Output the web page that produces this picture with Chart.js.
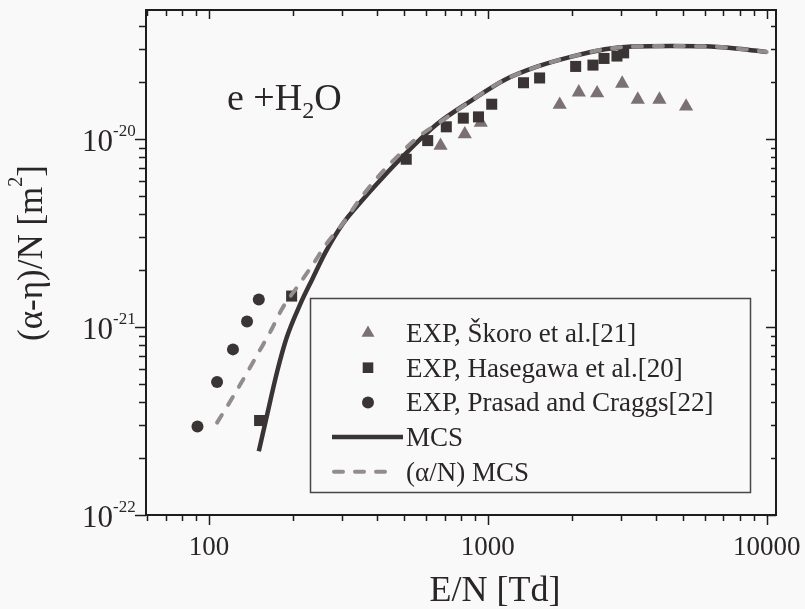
<!DOCTYPE html>
<html>
<head>
<meta charset="utf-8">
<title>e + H2O effective ionization coefficient</title>
<script src="https://cdn.jsdelivr.net/npm/chart.js@4.4.1/dist/chart.umd.min.js"></script>
<style>
  html, body { margin: 0; padding: 0; background: #f9f9f9; }
  #wrap { width: 805px; height: 609px; position: relative; }
</style>
</head>
<body>
<div id="wrap"><canvas id="ionChart"></canvas></div>
<script>
// E/N in Td, (alpha - eta)/N in m^2

// Skoro et al. [21]
const skoroE   = [677, 827, 944, 1811, 2120, 2466, 3033, 3450, 4125, 5140];
const skoroVal = [9.2e-21, 1.06e-20, 1.22e-20, 1.52e-20, 1.77e-20, 1.75e-20, 1.97e-20, 1.62e-20, 1.62e-20, 1.49e-20];

// Hasegawa et al. [20]
const hasegawaE   = [152, 198, 510, 609, 710, 817, 926, 1033, 1343, 1534, 2066, 2383, 2611, 2905, 3070];
const hasegawaVal = [3.18e-22, 1.46e-21, 7.8e-21, 9.8e-21, 1.16e-20, 1.29e-20, 1.31e-20, 1.53e-20,
                     1.99e-20, 2.11e-20, 2.43e-20, 2.47e-20, 2.68e-20, 2.76e-20, 2.87e-20];

// Prasad and Craggs [22]
const prasadE   = [91, 107, 122, 137, 151];
const prasadVal = [2.96e-22, 5.1e-22, 7.6e-22, 1.07e-21, 1.40e-21];

// Monte Carlo, (alpha - eta)/N
const mcsE   = [151, 160, 176, 190, 213, 235, 262, 303, 349, 413, 500, 658, 873, 1148, 1510,
                2000, 2630, 3290, 4570, 6000, 7890, 10000];
const mcsVal = [2.18e-22, 3.18e-22, 5.85e-22, 8.76e-22, 1.33e-21, 1.80e-21, 2.50e-21, 3.56e-21,
                4.59e-21, 6.07e-21, 8.17e-21, 1.20e-20, 1.60e-20, 2.06e-20, 2.43e-20,
                2.74e-20, 3.00e-20, 3.10e-20, 3.12e-20, 3.11e-20, 3.02e-20, 2.90e-20];

// Monte Carlo, alpha/N only
const alphaE   = [107, 122, 136.5, 151, 167, 183, 209, 236, 263, 303, 343, 395, 460, 575, 658, 873,
                  1148, 1510, 2000, 2630, 3290, 4570, 6000, 7890, 10000];
const alphaVal = [3.10e-22, 4.25e-22, 5.65e-22, 7.35e-22, 9.57e-22, 1.25e-21, 1.66e-21, 2.15e-21,
                  2.75e-21, 3.57e-21, 4.65e-21, 6.05e-21, 7.72e-21, 1.05e-20, 1.20e-20, 1.60e-20,
                  2.06e-20, 2.43e-20, 2.74e-20, 3.00e-20, 3.10e-20, 3.12e-20, 3.11e-20, 3.02e-20, 2.90e-20];

const xTickValues = [100, 1000, 10000];
const yTickExponents = [-22, -21, -20];

const serif = '"Liberation Serif", "Times New Roman", serif';
const ink = '#2a2627';
const darkMark = '#3a3435';
const greyTri = '#7b7173';
const dashGrey = '#938c8f';

const pts = (xs, ys) => xs.map((x, i) => ({ x: x, y: ys[i] }));

function logTicks(min, max) {
  const out = [];
  for (let e = Math.floor(Math.log10(min)); e <= Math.ceil(Math.log10(max)); e++) {
    for (let m = 1; m < 10; m++) {
      const v = m * Math.pow(10, e);
      if (v >= min * 0.999 && v <= max * 1.001) out.push({ v: v, major: m === 1 });
    }
  }
  return out;
}

function marker(ctx, style, x, y, r) {
  ctx.beginPath();
  if (style === 'triangle') {
    ctx.moveTo(x, y - r);
    ctx.lineTo(x + 0.866 * r, y + 0.5 * r);
    ctx.lineTo(x - 0.866 * r, y + 0.5 * r);
    ctx.closePath();
  } else if (style === 'rect') {
    const h = r * Math.SQRT1_2;
    ctx.rect(x - h, y - h, 2 * h, 2 * h);
  } else {
    ctx.arc(x, y, r, 0, Math.PI * 2);
  }
  ctx.fill();
}

// frame, ticks, tick labels, titles, annotation and legend
const decorations = {
  id: 'decorations',
  afterDraw(chart) {
    const ctx = chart.ctx;
    const area = chart.chartArea;
    const xs = chart.scales.x;
    const ys = chart.scales.y;
    ctx.save();

    // frame
    ctx.strokeStyle = '#1f1c1d';
    ctx.lineWidth = 2;
    ctx.strokeRect(area.left, area.top, area.right - area.left, area.bottom - area.top);

    // x ticks: out at the bottom, in at the top
    ctx.lineWidth = 1.5;
    ctx.beginPath();
    logTicks(xs.min, xs.max).forEach(t => {
      const px = Math.round(xs.getPixelForValue(t.v)) + 0.5;
      const len = t.major ? 10 : 6;
      ctx.moveTo(px, area.bottom);
      ctx.lineTo(px, area.bottom + len);
      ctx.moveTo(px, area.top);
      ctx.lineTo(px, area.top + (t.major ? 9 : 6));
    });
    // y ticks: out on the left, in on the right
    logTicks(ys.min, ys.max).forEach(t => {
      const py = Math.round(ys.getPixelForValue(t.v)) + 0.5;
      const len = t.major ? 11 : 7;
      ctx.moveTo(area.left, py);
      ctx.lineTo(area.left - len, py);
      ctx.moveTo(area.right, py);
      ctx.lineTo(area.right - (t.major ? 10 : 5), py);
    });
    ctx.stroke();

    ctx.fillStyle = ink;

    // x tick labels
    ctx.font = '27px ' + serif;
    ctx.textAlign = 'center';
    ctx.textBaseline = 'alphabetic';
    xTickValues.forEach(v => {
      ctx.fillText(String(v), xs.getPixelForValue(v), 555);
    });

    // y tick labels, 10 with a raised exponent
    yTickExponents.forEach(e => {
      const py = ys.getPixelForValue(Math.pow(10, e));
      ctx.font = '31px ' + serif;
      ctx.textAlign = 'right';
      ctx.fillText('10', 113, py + 12);
      ctx.font = '17px ' + serif;
      ctx.textAlign = 'left';
      ctx.fillText(String(e), 113, py - 3);
    });

    // x title
    ctx.font = '36px ' + serif;
    ctx.textAlign = 'center';
    ctx.fillText('E/N [Td]', 495, 601);

    // y title, rotated
    ctx.save();
    ctx.translate(42, 253);
    ctx.rotate(-Math.PI / 2);
    ctx.textAlign = 'left';
    const partA = '(\u03b1-\u03b7)/N [m';
    const partB = ']';
    ctx.font = '35px ' + serif;
    const wA = ctx.measureText(partA).width;
    const wB = ctx.measureText(partB).width;
    ctx.font = '20px ' + serif;
    const wS = ctx.measureText('2').width;
    let cx = -(wA + wS + wB) / 2;
    ctx.font = '35px ' + serif;
    ctx.fillText(partA, cx, 0);
    cx += wA;
    ctx.font = '20px ' + serif;
    ctx.fillText('2', cx, -20);
    cx += wS;
    ctx.font = '35px ' + serif;
    ctx.fillText(partB, cx, 0);
    ctx.restore();

    // e + H2O
    ctx.textAlign = 'left';
    ctx.font = '38px ' + serif;
    let ax = 227;
    ctx.fillText('e +H', ax, 110);
    ax += ctx.measureText('e +H').width;
    ctx.font = '24px ' + serif;
    ctx.fillText('2', ax, 118);
    ax += ctx.measureText('2').width;
    ctx.font = '38px ' + serif;
    ctx.fillText('O', ax, 110);

    // legend
    const box = { left: 310, top: 298, right: 750, bottom: 492 };
    ctx.fillStyle = '#f9f9f9';
    ctx.fillRect(box.left, box.top, box.right - box.left, box.bottom - box.top);
    ctx.strokeStyle = '#4a4546';
    ctx.lineWidth = 1.5;
    ctx.strokeRect(box.left + 0.5, box.top + 0.5, box.right - box.left, box.bottom - box.top);

    const rowY0 = 333, rowStep = 34.7, symX = 368, textX = 406;
    ctx.font = '27px ' + serif;
    chart.data.datasets.slice().sort((a, b) => a.legendRow - b.legendRow).forEach((ds, i) => {
      const ry = rowY0 + i * rowStep;
      if (ds.showLine) {
        ctx.save();
        ctx.strokeStyle = ds.borderColor;
        ctx.lineWidth = ds.borderWidth;
        ctx.lineCap = ds.borderCapStyle || 'butt';
        ctx.setLineDash(ds.borderDash || []);
        ctx.beginPath();
        if (ds.borderDash) {
          ctx.moveTo(334, ry);
          ctx.lineTo(390, ry);
        } else {
          ctx.moveTo(332, ry);
          ctx.lineTo(403, ry);
        }
        ctx.stroke();
        ctx.restore();
      } else {
        ctx.fillStyle = ds.backgroundColor;
        marker(ctx, ds.pointStyle, symX, ry, ds.pointStyle === 'triangle' ? 7.5 : (ds.pointStyle === 'rect' ? 7.5 : 6));
      }
      ctx.fillStyle = ink;
      ctx.fillText(ds.label, textX, ry + 9);
    });

    ctx.restore();
  }
};

const ctx = document.getElementById('ionChart').getContext('2d');

new Chart(ctx, {
  type: 'scatter',
  data: {
    datasets: [
      {
        label: '(\u03b1/N) MCS',
        data: pts(alphaE, alphaVal),
        showLine: true,
        borderColor: dashGrey,
        borderWidth: 4,
        borderDash: [9, 12],
        borderCapStyle: 'round',
        cubicInterpolationMode: 'monotone',
        pointRadius: 0,
        fill: false,
        order: 1,
        legendRow: 4
      },
      {
        label: 'MCS',
        data: pts(mcsE, mcsVal),
        showLine: true,
        borderColor: darkMark,
        borderWidth: 4.5,
        cubicInterpolationMode: 'monotone',
        pointRadius: 0,
        fill: false,
        order: 2,
        legendRow: 3
      },
      {
        label: 'EXP, Prasad and Craggs[22]',
        data: pts(prasadE, prasadVal),
        showLine: false,
        pointStyle: 'circle',
        pointRadius: 6,
        backgroundColor: darkMark,
        borderColor: darkMark,
        borderWidth: 0,
        order: 3,
        legendRow: 2
      },
      {
        label: 'EXP, Hasegawa et al.[20]',
        data: pts(hasegawaE, hasegawaVal),
        showLine: false,
        pointStyle: 'rect',
        pointRadius: 7.8,
        backgroundColor: darkMark,
        borderColor: darkMark,
        borderWidth: 0,
        order: 4,
        legendRow: 1
      },
      {
        label: 'EXP, \u0160koro et al.[21]',
        data: pts(skoroE, skoroVal),
        showLine: false,
        pointStyle: 'triangle',
        pointRadius: 8.2,
        backgroundColor: greyTri,
        borderColor: greyTri,
        borderWidth: 0,
        order: 5,
        legendRow: 0
      }
    ]
  },
  options: {
    responsive: true,
    maintainAspectRatio: false,
    animation: false,
    layout: { padding: { top: 10, right: 29, bottom: 0, left: 0 } },
    plugins: {
      legend: { display: false },
      tooltip: { enabled: false }
    },
    scales: {
      x: {
        type: 'logarithmic',
        position: 'bottom',
        min: 59.5,
        max: 10800,
        ticks: { display: false },
        grid: { display: false },
        border: { display: false },
        afterFit: s => { s.height = 94; }
      },
      y: {
        type: 'logarithmic',
        position: 'left',
        min: 1e-22,
        max: 4.85e-20,
        ticks: { display: false },
        grid: { display: false },
        border: { display: false },
        afterFit: s => { s.width = 146; }
      }
    }
  },
  plugins: [decorations]
});
</script>
</body>
</html>
